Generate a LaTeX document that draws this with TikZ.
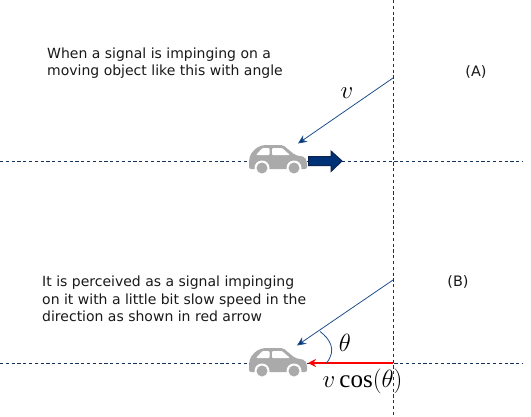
\documentclass[tikz,border=0pt]{standalone}
\usepackage{fontspec}
\setmainfont{DejaVu Sans}
\newfontfamily\opfont{Liberation Serif}
\usetikzlibrary{arrows.meta}
\definecolor{sigblue}{RGB}{31,78,140}
\definecolor{dashnavy}{RGB}{20,50,90}
\definecolor{navyfill}{RGB}{0,50,120}
\definecolor{navyedge}{RGB}{10,35,80}
\definecolor{cargray}{RGB}{170,170,170}
\tikzset{
  axisline/.style={draw=dashnavy,line width=0.6pt,dash pattern=on 3.2pt off 2.6pt},
  signal/.style={draw=sigblue,line width=0.8pt,-{Stealth[length=9pt,width=8pt,fill=navyfill]}},
  bodytext/.style={font=\fontsize{14pt}{17.3pt}\selectfont,align=left,anchor=north west,inner sep=0pt,text=black!90},
  mathlabel/.style={inner sep=0pt,anchor=center},
  carshape/.pic={
    \fill[cargray,rounded corners=2pt] (-13,7) -- (-13,0) -- (-12,-7) -- (-6,-14) -- (1,-17) -- (21,-17) -- (33,-7) -- (43,-5) -- (45,0) -- (45,7) -- cycle;
    \fill[white,rounded corners=1pt] (-6,-7) -- (0.5,-14) -- (7.5,-14) -- (7.5,-7) -- cycle;
    \fill[white,rounded corners=1pt] (10,-14) -- (20,-14) -- (28,-7) -- (10,-7) -- cycle;
    \fill[white] (0,6) circle (7.5);
    \fill[white] (32,6) circle (7.5);
    \fill[cargray] (0,6) circle (5.5);
    \fill[cargray] (32,6) circle (5.5);
  }
}
\begin{document}
\begin{tikzpicture}[x=1pt,y=-1pt]
\useasboundingbox (0,0) rectangle (531,416);
\coordinate (hAl) at (0,161);
\coordinate (hAr) at (523,161);
\coordinate (hBl) at (0,363);
\coordinate (hBr) at (523,363);
\coordinate (vt) at (393,0);
\coordinate (vb) at (393,416);
\draw[axisline] (hAl) -- (hAr);
\draw[axisline] (hBl) -- (hBr);
\draw[axisline] (vt) -- (vb);
\pic at (262,162) {carshape};
\pic at (262,365) {carshape};
% moving arrow
\filldraw[fill=navyfill,draw=navyedge,line width=1pt,line join=miter] (308.5,156.5) -- (331,156.5) -- (331,151) -- (342,161) -- (331,171.5) -- (331,165.5) -- (308.5,165.5) -- cycle;
% signals
\coordinate (sA) at (393,78);
\coordinate (eA) at (298,143.5);
\coordinate (sB) at (393,280);
\coordinate (eB) at (297,345.5);
\draw[signal] (sA) -- (eA);
\draw[signal] (sB) -- (eB);
\coordinate (rS) at (393,363);
\coordinate (rE) at (308,363);
\draw[red,line width=2.4pt,-{Stealth[length=8pt,width=8pt]}] (rS) -- (rE);
\coordinate (arcS) at (320,331.5);
\coordinate (arcE) at (326.5,363);
\draw[sigblue,line width=0.8pt] (arcS) .. controls (330,339) and (337,350) .. (arcE);
\node[bodytext] (t1) at (47,47.5) {When a signal is impinging on a\\moving object like this with angle};
\node[bodytext] (t2) at (42,276) {It is perceived as a signal impinging\\on it with a little bit slow speed in the\\direction as shown in red arrow};
\node[font=\fontsize{14.4pt}{17pt}\selectfont,inner sep=0pt,text=black!90] (la) at (476,72) {(A)};
\node[font=\fontsize{14.4pt}{17pt}\selectfont,inner sep=0pt,text=black!90] (lb) at (458,282) {(B)};
\node[mathlabel,font=\fontsize{25pt}{27pt}\selectfont] (v) at (347,93) {$v$};
\node[mathlabel,font=\fontsize{25pt}{27pt}\selectfont] (th) at (345,343) {$\theta$};
\node[mathlabel,font=\fontsize{25pt}{27pt}\selectfont] (vc) at (362.5,381) {$v$\,{\opfont cos}$(\theta)$};
\end{tikzpicture}
\end{document}
